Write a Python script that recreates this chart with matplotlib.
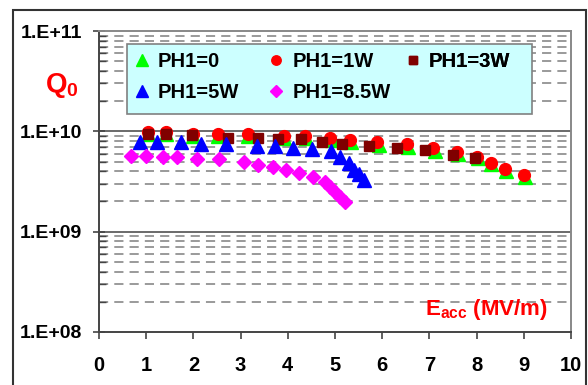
import numpy as np
import matplotlib
matplotlib.use('Agg')
from matplotlib import pyplot as plt
from matplotlib.patches import Rectangle
from matplotlib.ticker import LogLocator, NullFormatter, FixedLocator

plt.rcParams['font.family'] = 'Liberation Sans'
plt.rcParams['font.weight'] = 'bold'
plt.rcParams['mathtext.fontset'] = 'custom'
plt.rcParams['mathtext.bf'] = 'Liberation Sans:bold'
plt.rcParams['mathtext.rm'] = 'Liberation Sans:bold'

# PH1 = 0
e_0 = [1.04, 1.42, 2.0, 2.52, 3.16, 3.93, 4.39, 4.93, 5.34, 5.93, 6.55, 7.12, 7.60, 8.03, 8.30, 8.63, 9.02]
q_0 = [9.4e9, 9.4e9, 9.0e9, 9.0e9, 8.9e9, 8.6e9, 8.6e9, 8.2e9, 7.8e9, 7.3e9, 7.0e9, 6.4e9, 5.9e9, 5.4e9, 4.75e9, 4.05e9, 3.5e9]
# PH1 = 1W
e_1 = [1.04, 1.42, 2.0, 2.52, 3.16, 3.91, 4.37, 4.90, 5.32, 5.89, 6.53, 7.07, 7.58, 8.0, 8.30, 8.60, 9.0]
q_1 = [9.8e9, 9.8e9, 9.4e9, 9.4e9, 9.3e9, 9.0e9, 9.0e9, 8.6e9, 8.2e9, 7.8e9, 7.4e9, 6.8e9, 6.2e9, 5.6e9, 4.85e9, 4.25e9, 3.7e9]
# PH1 = 3W
e_3 = [1.03, 1.42, 1.98, 2.74, 3.36, 3.80, 4.27, 4.72, 5.14, 5.72, 6.31, 6.91, 7.50, 7.97]
q_3 = [9.3e9, 9.3e9, 9.1e9, 8.6e9, 8.6e9, 8.3e9, 8.3e9, 7.8e9, 7.5e9, 7.1e9, 6.8e9, 6.45e9, 5.85e9, 5.4e9]
# PH1 = 5W
e_5 = [0.87, 1.22, 1.73, 2.16, 2.70, 3.34, 3.73, 4.10, 4.52, 4.91, 5.11, 5.30, 5.41, 5.51, 5.61]
q_5 = [7.8e9, 7.8e9, 7.8e9, 7.5e9, 7.5e9, 7.2e9, 7.2e9, 6.9e9, 6.6e9, 6.3e9, 5.5e9, 4.8e9, 4.15e9, 3.72e9, 3.29e9]
# PH1 = 8.5W
e_85 = [0.67, 0.99, 1.35, 1.65, 2.08, 2.55, 3.07, 3.36, 3.68, 3.96, 4.24, 4.53, 4.79, 4.89, 5.0, 5.11, 5.21]
q_85 = [5.7e9, 5.7e9, 5.6e9, 5.5e9, 5.3e9, 5.3e9, 4.9e9, 4.6e9, 4.4e9, 4.15e9, 3.85e9, 3.47e9, 3.15e9, 2.77e9, 2.47e9, 2.2e9, 1.96e9]

x_ticks = list(range(0, 11))
y_labels = ['1.E+08', '1.E+09', '1.E+10', '1.E+11']

fig = plt.figure(figsize=(5.88, 3.85), dpi=100)
ax = fig.add_axes([99/588, 1-332/385, 472/588, 301/385])

# outer frame
fig.patches.append(Rectangle((13/588, -0.05), 573/588, 1.05-10/385, transform=fig.transFigure,
                             fill=False, edgecolor='#333333', lw=1.5))

ax.set_yscale('log')
ax.set_xlim(0, 10)
ax.set_ylim(1e8, 1e11)

# grid
for d in [1e8, 1e9, 1e10]:
    for k in range(2, 10):
        ax.axhline(d*k, color='#7f7f7f', lw=1.1, ls=(0, (6, 4)), zorder=1)
for d in [1e9, 1e10]:
    ax.axhline(d, color='#6a6a6a', lw=1.4, zorder=1)

h0, = ax.plot(e_0, q_0, ls='None', marker='^', color='#00ff00', ms=10.5, zorder=3)
h1, = ax.plot(e_1, q_1, ls='None', marker='o', color='#ff0000', ms=8.5, zorder=4)
h3, = ax.plot(e_3, q_3, ls='None', marker='s', color='#800000', ms=7.5, zorder=5)
h5, = ax.plot(e_5, q_5, ls='None', marker='^', color='#0000ff', ms=10.5, zorder=6)
h85, = ax.plot(e_85, q_85, ls='None', marker='D', color='#ff00ff', ms=7.5, zorder=7)

ax.xaxis.set_major_locator(FixedLocator(x_ticks))
ax.set_xticklabels([str(v) for v in x_ticks])
ax.yaxis.set_major_locator(FixedLocator([1e8, 1e9, 1e10, 1e11]))
ax.set_yticklabels(y_labels)
ax.yaxis.set_minor_locator(LogLocator(base=10, subs=np.arange(2, 10)))
ax.yaxis.set_minor_formatter(NullFormatter())
ax.tick_params(axis='x', which='major', direction='out', length=5, width=1.2, color='#444444',
               labelsize=14.5, pad=12)
ax.tick_params(axis='y', which='major', direction='inout', length=9, width=1.2, color='#444444',
               labelsize=14, pad=7.5)
ax.tick_params(axis='y', which='minor', direction='in', length=5, width=1, color='#444444')

for s in ['left', 'bottom']:
    ax.spines[s].set_color('#444444')
    ax.spines[s].set_linewidth(1.4)
for s in ['top', 'right']:
    ax.spines[s].set_color('#888888')
    ax.spines[s].set_linewidth(1.4)

# legend: one box, three columns placed on a grid like the original
ax.add_patch(Rectangle((0.059, 0.724), 0.858, 0.233, transform=ax.transAxes,
                       facecolor='#ccffff', edgecolor='#808080', lw=1.2, zorder=9))
columns = [([h0, h5], ['PH1=0', 'PH1=5W'], 0.074),
           ([h1, h85], ['PH1=1W', 'PH1=8.5W'], 0.358),
           ([h3], ['PH1=3W'], 0.648)]
for handles, labels, xa in columns:
    leg = ax.legend(handles, labels, loc='upper left', bbox_to_anchor=(xa, 0.93),
                    borderaxespad=0, borderpad=0, numpoints=1, markerscale=0.8, fontsize=14.5,
                    handlelength=0.8, handletextpad=0.4, labelspacing=0.6, frameon=False)
    leg.set_zorder(10)
    ax.add_artist(leg)

fig.text(62/588, 1-86/385, r'$\mathbf{Q}_\mathbf{0}$', color='#ff0000', fontsize=20,
         ha='center', va='center')
fig.text(486/588, 1-309/385, r'$\mathbf{E}_\mathbf{acc}$ (MV/m)', color='#ff0000', fontsize=16,
         ha='center', va='center')

fig.savefig('out.png', dpi=100)
